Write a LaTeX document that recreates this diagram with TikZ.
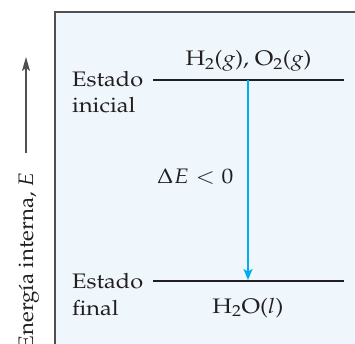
\documentclass[tikz,border=0pt]{standalone}
\usepackage[T1]{fontenc}
\usepackage{mathpazo}
\usepackage{graphicx}
\usetikzlibrary{arrows.meta}
\definecolor{bgblue}{HTML}{EFF7FD}
\definecolor{ink}{HTML}{231F20}
\definecolor{cyanarrow}{HTML}{00AEEF}
\definecolor{axisgray}{HTML}{505050}
\newcommand{\hstr}[1]{\scalebox{1.12}[1]{#1}}
\tikzset{
  lbl/.style={inner sep=0pt, font=\fontsize{21}{26}\selectfont, text=ink},
  level/.style={line width=1.5pt, draw=ink},
}
\begin{document}
\begin{tikzpicture}[x=1pt,y=-1pt]
\useasboundingbox (0,0) rectangle (355,344);
\fill[bgblue] (55,12) rectangle (360,350);
\draw[line width=1.4pt, axisgray] (55,350) -- (55,12) -- (360,12);
% levels
\coordinate (t1) at (153,80);
\coordinate (t2) at (344,80);
\coordinate (b1) at (153,281);
\coordinate (b2) at (344,281);
\draw[level] (t1) -- (t2);
\draw[level] (b1) -- (b2);
\coordinate (as) at (248,80);
\coordinate (ae) at (248,280);
\draw[line width=1.6pt, cyanarrow, -{Stealth[length=11pt,width=9pt,inset=2.5pt]}] (as) -- (ae);
% labels
\node[lbl, anchor=base west] (ini1) at (72,87) {\hstr{Estado}};
\node[lbl, anchor=base west] (ini2) at (72,113) {\hstr{inicial}};
\node[lbl, anchor=base west] (fin1) at (72,288) {\hstr{Estado}};
\node[lbl, anchor=base west] (fin2) at (72,315) {\hstr{final}};
\node[lbl, anchor=base] (react) at (248.5,66) {\hstr{H$_2$($g$), O$_2$($g$)}};
\node[lbl, anchor=base west] (dE) at (157,184) {\hstr{$\Delta E < 0$}};
\node[lbl, anchor=base] (prod) at (248,313) {\hstr{H$_2$O($l$)}};
% axis label
\node[lbl, rotate=90, anchor=base east] (elab) at (33,172) {\scalebox{1.06}[1]{Energ\'{\i}a interna, $E$}};
\coordinate (y0) at (26,153);
\coordinate (y1) at (26,57);
\draw[line width=1.3pt, axisgray, -{Stealth[length=14pt,width=8pt,inset=3pt]}] (y0) -- (y1);
\end{tikzpicture}
\end{document}
